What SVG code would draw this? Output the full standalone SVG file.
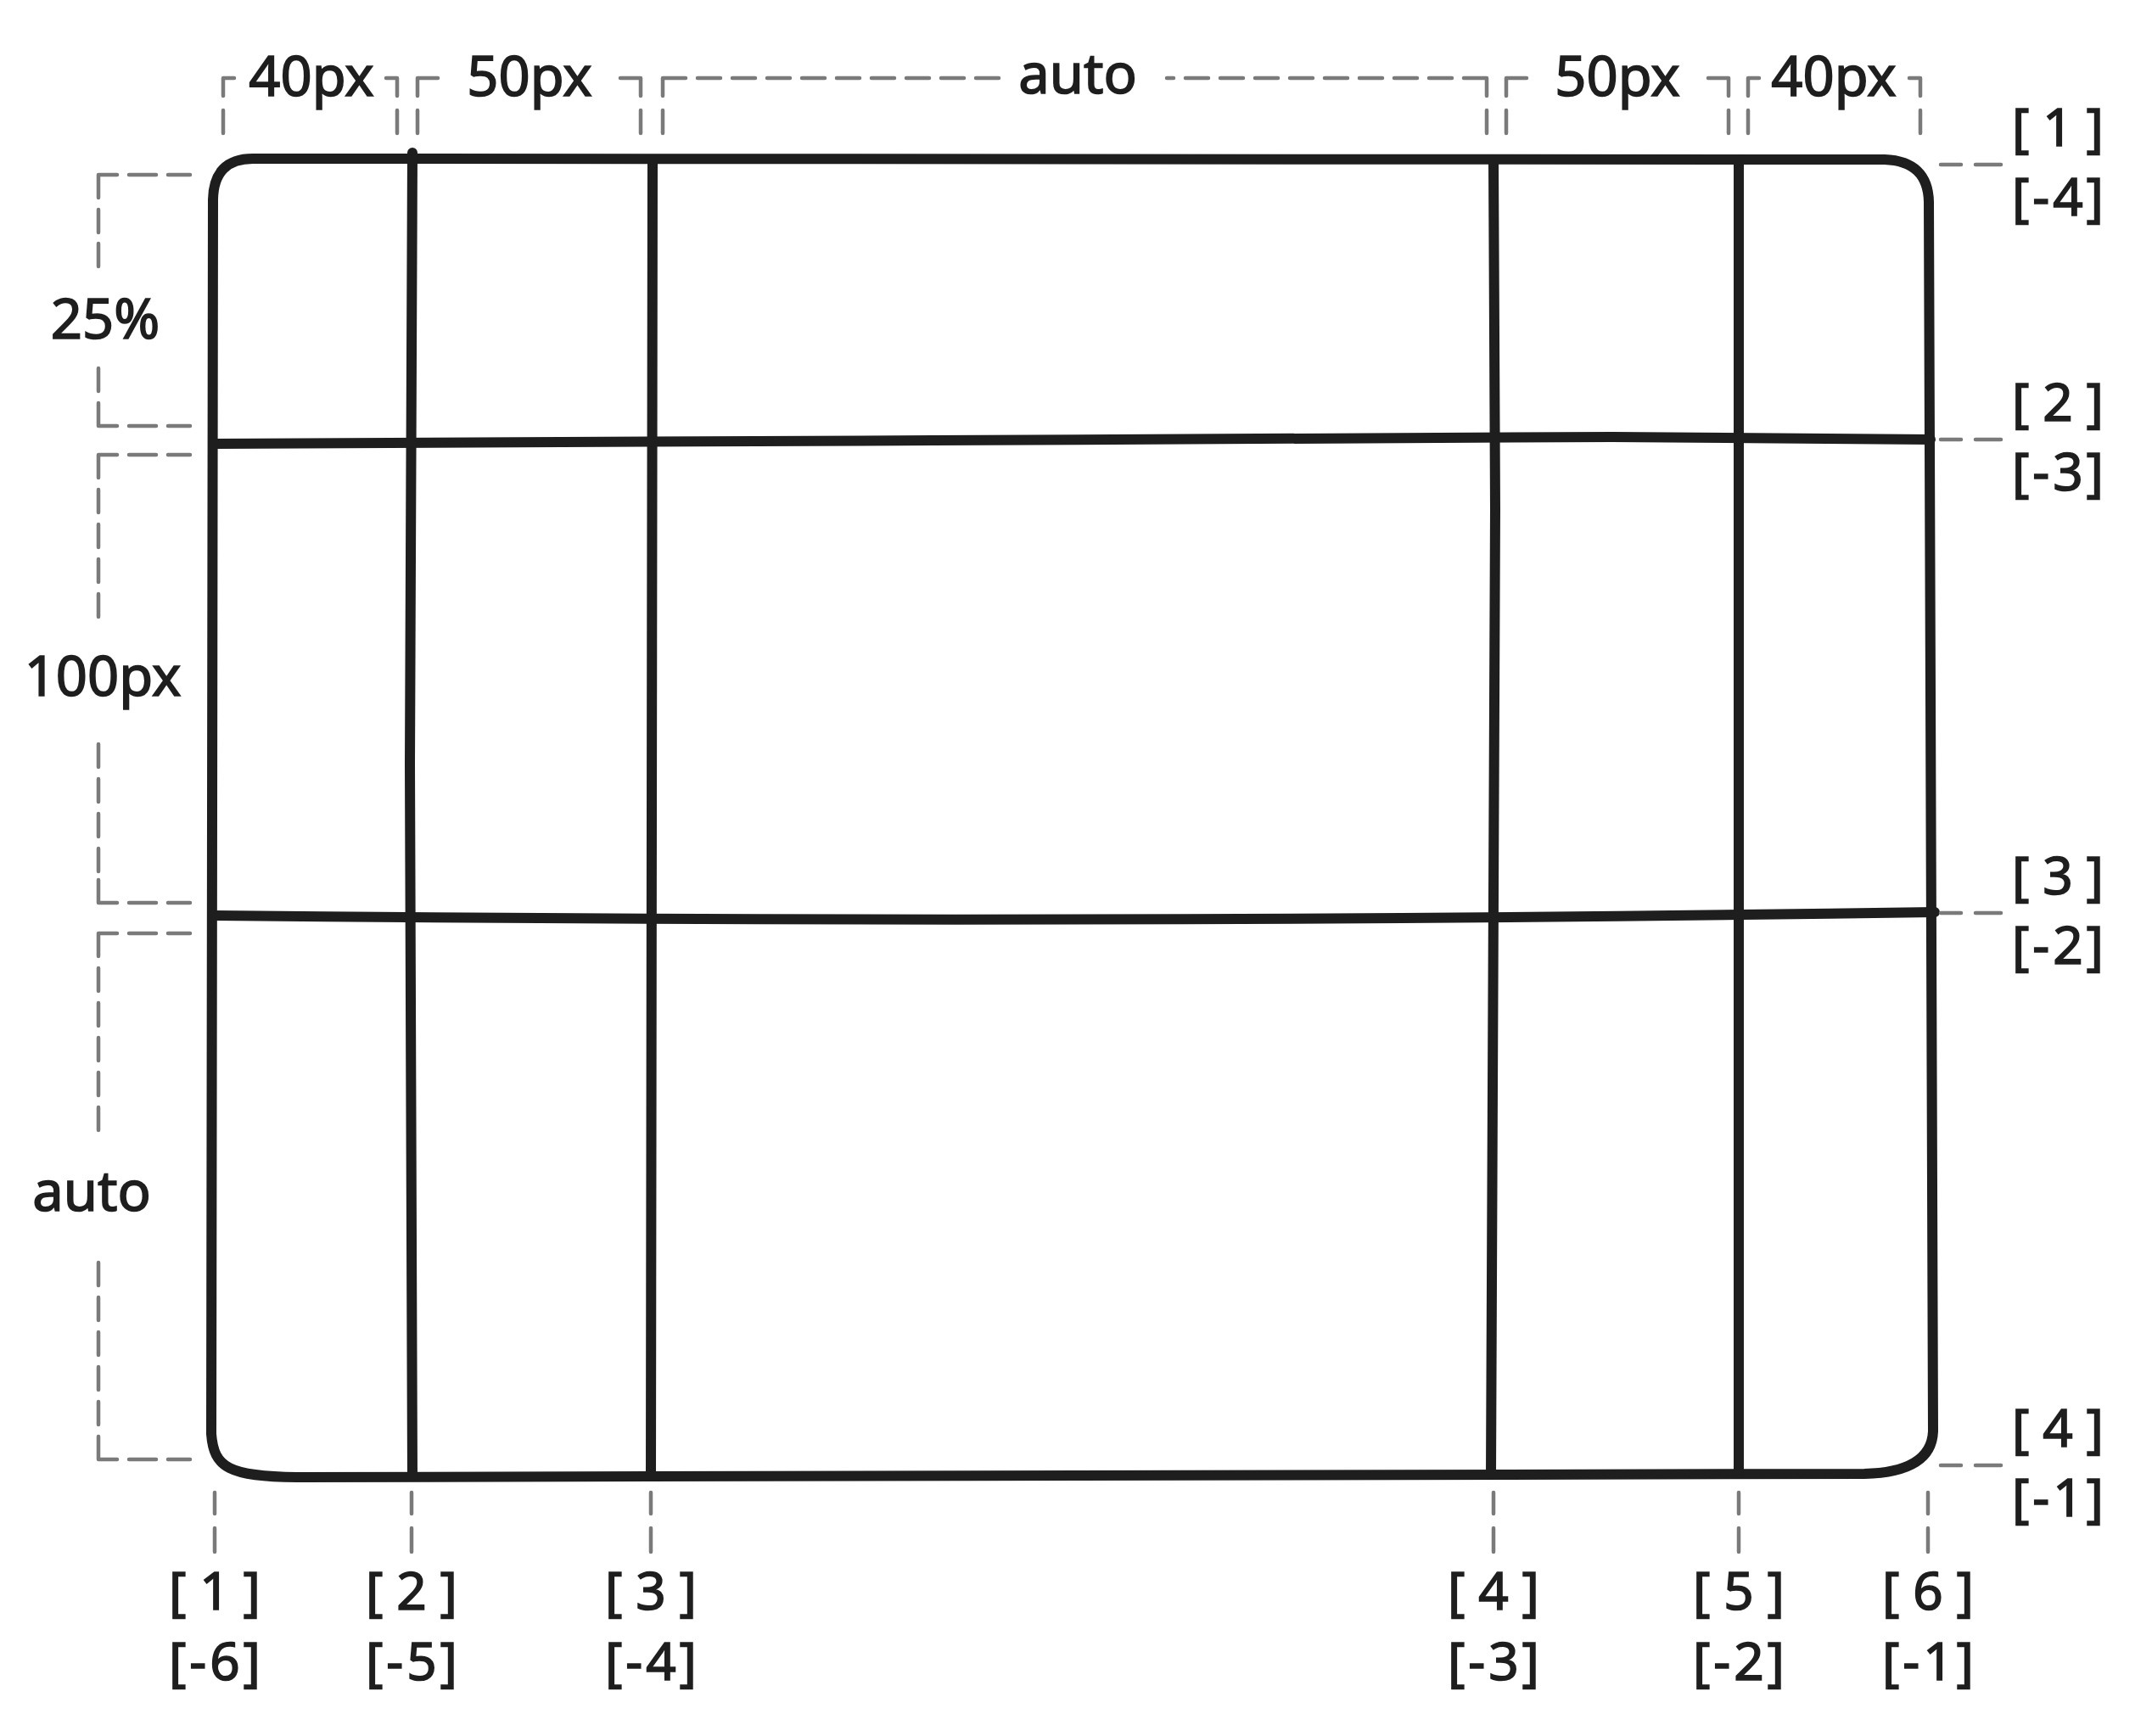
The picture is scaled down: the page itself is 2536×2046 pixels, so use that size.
<svg xmlns="http://www.w3.org/2000/svg" width="2536" height="2046" viewBox="0 0 2536 2046">
<style>
.g{fill:none;stroke:#1e1e1e;stroke-width:12;stroke-linecap:round;stroke-linejoin:round}
.d{fill:none;stroke:#7a7a7a;stroke-width:4.5;stroke-linecap:round;stroke-linejoin:round}
.t{font-family:"Noto Sans","Liberation Sans",sans-serif;font-size:65px;fill:#1e1e1e;stroke:#1e1e1e;stroke-width:1.6;text-anchor:middle}
.l{font-family:"Noto Sans","Liberation Sans",sans-serif;font-size:62px;fill:#1e1e1e;stroke:#1e1e1e;stroke-width:1.6;text-anchor:middle}
</style>
<rect width="2536" height="2046" fill="#ffffff"/>
<g id="grid">
<path class="g" d="M298 187 L2221 188 Q2272 190 2273 238 L2278 1687 Q2276 1735 2197 1737 L350 1741 C270 1740 252 1730 249 1690 L251 235 Q252 187 298 187 Z"/>
<path class="g" d="M486 180 L483 900 L486 1740"/>
<path class="g" d="M769 188 L767 1740"/>
<path class="g" d="M1760 188 L1762 600 L1757 1738"/>
<path class="g" d="M2049 188 L2049 1737"/>
<path class="g" d="M251 523 L1100 519 L1900 515 L2275 518"/>
<path class="g" d="M251 1079 Q1300 1090 2280 1075"/>
</g>
<g id="top-brackets">
<path class="d" d="M263 157 V130 M263 113 V92 H276 M455 92 H468 V113 M468 130 V157"/>
<path class="d" d="M492 157 V130 M492 113 V92 H516 M731 92 H755 V113 M755 130 V157"/>
<path class="d" d="M781 157 V130 M781 113 V92 H808 M822 92 H849 M863 92 H890 M904 92 H931 M945 92 H972 M986 92 H1013 M1027 92 H1054 M1068 92 H1095 M1109 92 H1136 M1150 92 H1177"/>
<path class="d" d="M1752 157 V130 M1752 113 V92 H1725 M1711 92 H1684 M1670 92 H1643 M1629 92 H1602 M1588 92 H1561 M1547 92 H1520 M1506 92 H1479 M1465 92 H1438 M1424 92 H1397 M1383 92 H1375"/>
<path class="d" d="M1775 157 V130 M1775 113 V92 H1799 M2013 92 H2037 V113 M2037 130 V157"/>
<path class="d" d="M2060 157 V130 M2060 113 V92 H2073 M2250 92 H2263 V113 M2263 130 V157"/>
</g>
<g id="left-brackets">
<path class="d" d="M224 206 H198 M184 206 H152 M138 206 H116 V233 M116 247 V274 M116 287 V314 M116 434 V461 M116 475 V502 H138 M152 502 H184 M198 502 H224"/>
<path class="d" d="M224 536 H198 M184 536 H152 M138 536 H116 V563 M116 577 V604 M116 618 V645 M116 659 V686 M116 700 V727 M116 877 V904 M116 918 V945 M116 959 V986 M116 1000 V1027 M116 1037 V1064 H138 M152 1064 H184 M198 1064 H224"/>
<path class="d" d="M224 1100 H198 M184 1100 H152 M138 1100 H116 V1127 M116 1141 V1168 M116 1182 V1209 M116 1223 V1250 M116 1264 V1291 M116 1305 V1332 M116 1488 V1515 M116 1529 V1556 M116 1570 V1597 M116 1611 V1638 M116 1652 V1679 M116 1693 V1720 H138 M152 1720 H184 M198 1720 H224"/>
</g>
<g id="right-ticks">
<path class="d" d="M2287 194 H2311 M2328 194 H2358 M2287 518 H2311 M2328 518 H2358 M2287 1076 H2311 M2328 1076 H2358 M2287 1727 H2311 M2328 1727 H2358"/>
</g>
<g id="bottom-ticks">
<path class="d" d="M253 1759 V1784 M253 1801 V1829 M485 1759 V1784 M485 1801 V1829 M767 1759 V1784 M767 1801 V1829 M1760 1759 V1784 M1760 1801 V1829 M2049 1759 V1784 M2049 1801 V1829 M2272 1759 V1784 M2272 1801 V1829"/>
</g>
<g id="size-labels">
<text class="t" x="367" y="113">40px</text>
<text class="t" x="624" y="113">50px</text>
<text class="t" x="1270" y="110">auto</text>
<text class="t" x="1906" y="113">50px</text>
<text class="t" x="2161" y="113">40px</text>
<text class="t" x="124" y="399">25%</text>
<text class="t" x="121" y="820">100px</text>
<text class="t" x="108" y="1427">auto</text>
</g>
<g id="row-line-labels">
<text class="l" x="2425" y="172" textLength="108" lengthAdjust="spacing">[ 1 ]</text>
<text class="l" x="2425" y="254" textLength="108" lengthAdjust="spacing">[-4]</text>
<text class="l" x="2425" y="496" textLength="108" lengthAdjust="spacing">[ 2 ]</text>
<text class="l" x="2425" y="578" textLength="108" lengthAdjust="spacing">[-3]</text>
<text class="l" x="2425" y="1054" textLength="108" lengthAdjust="spacing">[ 3 ]</text>
<text class="l" x="2425" y="1136" textLength="108" lengthAdjust="spacing">[-2]</text>
<text class="l" x="2425" y="1705" textLength="108" lengthAdjust="spacing">[ 4 ]</text>
<text class="l" x="2425" y="1787" textLength="108" lengthAdjust="spacing">[-1]</text>
</g>
<g id="column-line-labels">
<text class="l" x="253" y="1897" textLength="108" lengthAdjust="spacing">[ 1 ]</text>
<text class="l" x="253" y="1980" textLength="108" lengthAdjust="spacing">[-6]</text>
<text class="l" x="485" y="1897" textLength="108" lengthAdjust="spacing">[ 2 ]</text>
<text class="l" x="485" y="1980" textLength="108" lengthAdjust="spacing">[-5]</text>
<text class="l" x="767" y="1897" textLength="108" lengthAdjust="spacing">[ 3 ]</text>
<text class="l" x="767" y="1980" textLength="108" lengthAdjust="spacing">[-4]</text>
<text class="l" x="1760" y="1897" textLength="108" lengthAdjust="spacing">[ 4 ]</text>
<text class="l" x="1760" y="1980" textLength="108" lengthAdjust="spacing">[-3]</text>
<text class="l" x="2049" y="1897" textLength="108" lengthAdjust="spacing">[ 5 ]</text>
<text class="l" x="2049" y="1980" textLength="108" lengthAdjust="spacing">[-2]</text>
<text class="l" x="2272" y="1897" textLength="108" lengthAdjust="spacing">[ 6 ]</text>
<text class="l" x="2272" y="1980" textLength="108" lengthAdjust="spacing">[-1]</text>
</g>
</svg>
